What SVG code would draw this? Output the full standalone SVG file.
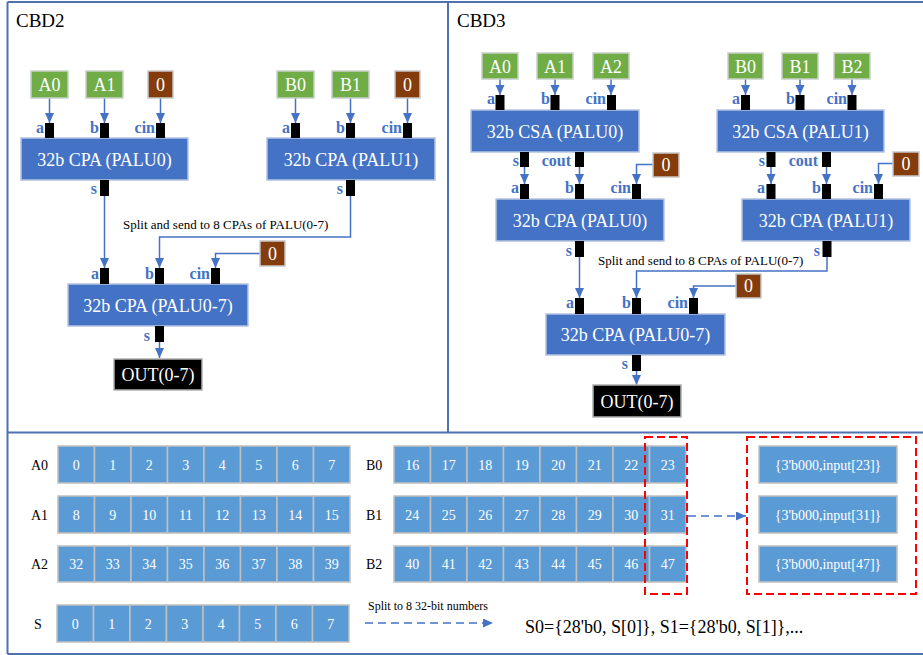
<svg xmlns="http://www.w3.org/2000/svg" width="923" height="655" viewBox="0 0 923 655">
<defs>
<marker id="ah" markerUnits="userSpaceOnUse" markerWidth="10" markerHeight="10" refX="10" refY="4.5" orient="auto"><path d="M0,0 L10,4.5 L0,9 z" fill="#4472c4"/></marker>
<style>
text{font-family:"Liberation Serif","Times New Roman",serif}
.frame{stroke:#5070b0;stroke-width:2;fill:none}
.blk{fill:#4472c4;stroke:#b4c4e0;stroke-width:1.5}
.blk text,.bt{fill:#fff;font-size:18px;text-anchor:middle}
.grn{fill:#70ad47;stroke:#c8d0c8;stroke-width:1.5}
.brn{fill:#843c0c;stroke:#c8c8c8;stroke-width:1.5}
.out{fill:#000;stroke:#b0b0b0;stroke-width:1.5}
.pin{fill:#000}
.pl{fill:#4472c4;font-size:16px;font-weight:bold;text-anchor:end}
.w{fill:none;stroke:#4472c4;stroke-width:1.5}
.wa{fill:none;stroke:#4472c4;stroke-width:1.5;marker-end:url(#ah)}
.dash{fill:none;stroke:#4472c4;stroke-width:1.5;stroke-dasharray:8,5;marker-end:url(#ah)}
.red{fill:none;stroke:#ff0000;stroke-width:2;stroke-dasharray:8,4}
.note{fill:#000;font-size:13px}
.cell{fill:#5b9bd5;stroke:#c0c0c0;stroke-width:1.5}
.ct{fill:#fff;font-size:14px;text-anchor:middle}
.rl{fill:#000;font-size:14px}
.ttl{fill:#000;font-size:19px}
</style>
</defs>
<g id="frame">
<path class="frame" d="M7.5,2 H923 M7.5,2 V654 M7.5,432.5 H923 M448,2 V432.5 M7.5,654 H923"/>
</g>
<text class="ttl" x="16" y="27">CBD2</text>
<text class="ttl" x="457" y="27">CBD3</text>

<g id="connectors">
<!-- CBD2 -->
<path class="wa" d="M49.5,98 V123"/>
<path class="wa" d="M104.5,98 V123"/>
<path class="wa" d="M160.5,98 V123"/>
<path class="wa" d="M295.5,98 V123"/>
<path class="wa" d="M350.5,98 V123"/>
<path class="wa" d="M407.5,98 V123"/>
<path class="wa" d="M104.5,196 V268"/>
<path class="wa" d="M350.5,196 V237 H159.5 V268"/>
<path class="wa" d="M260,253.5 H215.5 V268"/>
<path class="wa" d="M159.5,342 V358"/>
<!-- CBD3 -->
<path class="wa" d="M500,79 V95"/>
<path class="wa" d="M555,79 V95"/>
<path class="wa" d="M611,79 V95"/>
<path class="wa" d="M745.5,79 V95"/>
<path class="wa" d="M800,79 V95"/>
<path class="wa" d="M852,79 V95"/>
<path class="wa" d="M524.5,167 V184"/>
<path class="wa" d="M579.5,167 V184"/>
<path class="wa" d="M653,164.5 H636.5 V184"/>
<path class="wa" d="M771,167 V184"/>
<path class="wa" d="M826.5,167 V184"/>
<path class="wa" d="M893,163.5 H878.5 V184"/>
<path class="wa" d="M579.5,257 V298"/>
<path class="wa" d="M827,257 V271 H636.5 V298"/>
<path class="wa" d="M736,286 H693.5 V298"/>
<path class="wa" d="M636.5,371 V385"/>
<!-- bottom -->
<path class="dash" d="M688,516 H746"/>
<path class="dash" d="M365,623 H493"/>
</g>

<!-- CBD2 nodes -->
<g id="cbd2_A0"><rect class="grn" x="31" y="71" width="37" height="27"/><text class="bt" x="49.5" y="91">A0</text></g>
<g id="cbd2_A1"><rect class="grn" x="86" y="71" width="37" height="27"/><text class="bt" x="104.5" y="91">A1</text></g>
<g id="cbd2_z0"><rect class="brn" x="148" y="71" width="25" height="27"/><text class="bt" x="160.5" y="91">0</text></g>
<g id="cbd2_B0"><rect class="grn" x="277" y="71" width="37" height="27"/><text class="bt" x="295.5" y="91">B0</text></g>
<g id="cbd2_B1"><rect class="grn" x="332" y="71" width="37" height="27"/><text class="bt" x="350.5" y="91">B1</text></g>
<g id="cbd2_z1"><rect class="brn" x="395" y="71" width="25" height="27"/><text class="bt" x="407.5" y="91">0</text></g>

<g id="cbd2_palu0">
<rect class="blk" x="21" y="138" width="167" height="42"/><text class="bt" x="104.5" y="166">32b CPA (PALU0)</text>
<rect class="pin" x="45" y="123" width="9" height="15"/><rect class="pin" x="100" y="123" width="9" height="15"/><rect class="pin" x="156" y="123" width="9" height="15"/>
<rect class="pin" x="100" y="180" width="9" height="16"/>
<text class="pl" x="44" y="133">a</text><text class="pl" x="99" y="133">b</text><text class="pl" x="155" y="133">cin</text><text class="pl" x="97" y="194">s</text>
</g>
<g id="cbd2_palu1">
<rect class="blk" x="267" y="138" width="168" height="42"/><text class="bt" x="351" y="166">32b CPA (PALU1)</text>
<rect class="pin" x="291" y="123" width="9" height="15"/><rect class="pin" x="346" y="123" width="9" height="15"/><rect class="pin" x="403" y="123" width="9" height="15"/>
<rect class="pin" x="346" y="180" width="9" height="16"/>
<text class="pl" x="290" y="133">a</text><text class="pl" x="345" y="133">b</text><text class="pl" x="402" y="133">cin</text><text class="pl" x="343" y="194">s</text>
</g>
<text class="note" x="123" y="229">Split and send to 8 CPAs of PALU(0-7)</text>
<g id="cbd2_z2"><rect class="brn" x="260" y="241" width="25" height="25"/><text class="bt" x="272.5" y="260">0</text></g>
<g id="cbd2_palu07">
<rect class="blk" x="68" y="284" width="180" height="42"/><text class="bt" x="158" y="312">32b CPA (PALU0-7)</text>
<rect class="pin" x="100" y="268" width="9" height="16"/><rect class="pin" x="155" y="268" width="9" height="16"/><rect class="pin" x="211" y="268" width="9" height="16"/>
<rect class="pin" x="155" y="326" width="9" height="16"/>
<text class="pl" x="99" y="279">a</text><text class="pl" x="154" y="279">b</text><text class="pl" x="210" y="279">cin</text><text class="pl" x="150" y="341">s</text>
</g>
<g id="cbd2_out"><rect class="out" x="114" y="359" width="88" height="31"/><text class="bt" x="158" y="381">OUT(0-7)</text></g>

<!-- CBD3 nodes -->
<g id="cbd3_A0"><rect class="grn" x="482" y="53" width="36" height="26"/><text class="bt" x="500" y="73">A0</text></g>
<g id="cbd3_A1"><rect class="grn" x="537" y="53" width="36" height="26"/><text class="bt" x="555" y="73">A1</text></g>
<g id="cbd3_A2"><rect class="grn" x="593" y="53" width="36" height="26"/><text class="bt" x="611" y="73">A2</text></g>
<g id="cbd3_B0"><rect class="grn" x="728" y="53" width="35" height="26"/><text class="bt" x="745.5" y="73">B0</text></g>
<g id="cbd3_B1"><rect class="grn" x="782" y="53" width="36" height="26"/><text class="bt" x="800" y="73">B1</text></g>
<g id="cbd3_B2"><rect class="grn" x="834" y="53" width="36" height="26"/><text class="bt" x="852" y="73">B2</text></g>

<g id="cbd3_csa0">
<rect class="blk" x="471" y="110" width="168" height="42"/><text class="bt" x="555" y="138">32b CSA (PALU0)</text>
<rect class="pin" x="495.5" y="95" width="9" height="15"/><rect class="pin" x="550.5" y="95" width="9" height="15"/><rect class="pin" x="607" y="95" width="9" height="15"/>
<rect class="pin" x="520" y="152" width="9" height="15"/><rect class="pin" x="575" y="152" width="9" height="15"/>
<text class="pl" x="495" y="104">a</text><text class="pl" x="550" y="104">b</text><text class="pl" x="606" y="104">cin</text>
<text class="pl" x="519" y="166">s</text><text class="pl" x="571" y="166">cout</text>
</g>
<g id="cbd3_z0"><rect class="brn" x="653" y="153" width="26" height="24"/><text class="bt" x="666" y="171">0</text></g>
<g id="cbd3_cpa0">
<rect class="blk" x="496" y="199" width="168" height="42"/><text class="bt" x="580" y="227">32b CPA (PALU0)</text>
<rect class="pin" x="520" y="184" width="9" height="15"/><rect class="pin" x="575" y="184" width="9" height="15"/><rect class="pin" x="632" y="184" width="9" height="15"/>
<rect class="pin" x="575" y="241" width="9" height="16"/>
<text class="pl" x="519" y="193">a</text><text class="pl" x="574" y="193">b</text><text class="pl" x="631" y="193">cin</text><text class="pl" x="572" y="256">s</text>
</g>
<g id="cbd3_csa1">
<rect class="blk" x="717" y="110" width="167" height="42"/><text class="bt" x="800.5" y="138">32b CSA (PALU1)</text>
<rect class="pin" x="741" y="95" width="9" height="15"/><rect class="pin" x="795.5" y="95" width="9" height="15"/><rect class="pin" x="847.5" y="95" width="9" height="15"/>
<rect class="pin" x="766.5" y="152" width="9" height="15"/><rect class="pin" x="822" y="152" width="9" height="15"/>
<text class="pl" x="740" y="104">a</text><text class="pl" x="795" y="104">b</text><text class="pl" x="847" y="104">cin</text>
<text class="pl" x="765" y="166">s</text><text class="pl" x="818" y="166">cout</text>
</g>
<g id="cbd3_z1"><rect class="brn" x="893" y="152" width="26" height="24"/><text class="bt" x="906" y="170">0</text></g>
<g id="cbd3_cpa1">
<rect class="blk" x="742" y="199" width="168" height="42"/><text class="bt" x="826" y="227">32b CPA (PALU1)</text>
<rect class="pin" x="766.5" y="184" width="9" height="15"/><rect class="pin" x="822" y="184" width="9" height="15"/><rect class="pin" x="874" y="184" width="9" height="15"/>
<rect class="pin" x="822.5" y="241" width="9" height="16"/>
<text class="pl" x="765" y="193">a</text><text class="pl" x="821" y="193">b</text><text class="pl" x="873" y="193">cin</text><text class="pl" x="820" y="256">s</text>
</g>
<text class="note" x="598" y="265">Split and send to 8 CPAs of PALU(0-7)</text>
<g id="cbd3_z2"><rect class="brn" x="736" y="274" width="25" height="24"/><text class="bt" x="748.5" y="292">0</text></g>
<g id="cbd3_palu07">
<rect class="blk" x="546" y="314" width="179" height="41"/><text class="bt" x="635.5" y="341">32b CPA (PALU0-7)</text>
<rect class="pin" x="575" y="298" width="9" height="16"/><rect class="pin" x="632" y="298" width="9" height="16"/><rect class="pin" x="689" y="298" width="9" height="16"/>
<rect class="pin" x="632" y="355" width="9" height="16"/>
<text class="pl" x="574" y="308">a</text><text class="pl" x="631" y="308">b</text><text class="pl" x="688" y="308">cin</text><text class="pl" x="628" y="369">s</text>
</g>
<g id="cbd3_out"><rect class="out" x="593" y="385" width="88" height="32"/><text class="bt" x="637" y="408">OUT(0-7)</text></g>

<!-- bottom panel -->
<g id="row_A0">
<text class="rl" x="31" y="470">A0</text>
<rect class="cell" x="58" y="446" width="36.5" height="37"/><rect class="cell" x="94.5" y="446" width="36.5" height="37"/><rect class="cell" x="131" y="446" width="36.5" height="37"/><rect class="cell" x="167.5" y="446" width="36.5" height="37"/><rect class="cell" x="204" y="446" width="36.5" height="37"/><rect class="cell" x="240.5" y="446" width="36.5" height="37"/><rect class="cell" x="277" y="446" width="36.5" height="37"/><rect class="cell" x="313.5" y="446" width="36.5" height="37"/>
<text class="ct" x="76.25" y="469.5">0</text><text class="ct" x="112.75" y="469.5">1</text><text class="ct" x="149.25" y="469.5">2</text><text class="ct" x="185.75" y="469.5">3</text><text class="ct" x="222.25" y="469.5">4</text><text class="ct" x="258.75" y="469.5">5</text><text class="ct" x="295.25" y="469.5">6</text><text class="ct" x="331.75" y="469.5">7</text>
</g>
<g id="row_A1">
<text class="rl" x="31" y="520">A1</text>
<rect class="cell" x="58" y="496" width="36.5" height="37"/><rect class="cell" x="94.5" y="496" width="36.5" height="37"/><rect class="cell" x="131" y="496" width="36.5" height="37"/><rect class="cell" x="167.5" y="496" width="36.5" height="37"/><rect class="cell" x="204" y="496" width="36.5" height="37"/><rect class="cell" x="240.5" y="496" width="36.5" height="37"/><rect class="cell" x="277" y="496" width="36.5" height="37"/><rect class="cell" x="313.5" y="496" width="36.5" height="37"/>
<text class="ct" x="76.25" y="519.5">8</text><text class="ct" x="112.75" y="519.5">9</text><text class="ct" x="149.25" y="519.5">10</text><text class="ct" x="185.75" y="519.5">11</text><text class="ct" x="222.25" y="519.5">12</text><text class="ct" x="258.75" y="519.5">13</text><text class="ct" x="295.25" y="519.5">14</text><text class="ct" x="331.75" y="519.5">15</text>
</g>
<g id="row_A2">
<text class="rl" x="31" y="569">A2</text>
<rect class="cell" x="58" y="546" width="36.5" height="36"/><rect class="cell" x="94.5" y="546" width="36.5" height="36"/><rect class="cell" x="131" y="546" width="36.5" height="36"/><rect class="cell" x="167.5" y="546" width="36.5" height="36"/><rect class="cell" x="204" y="546" width="36.5" height="36"/><rect class="cell" x="240.5" y="546" width="36.5" height="36"/><rect class="cell" x="277" y="546" width="36.5" height="36"/><rect class="cell" x="313.5" y="546" width="36.5" height="36"/>
<text class="ct" x="76.25" y="569">32</text><text class="ct" x="112.75" y="569">33</text><text class="ct" x="149.25" y="569">34</text><text class="ct" x="185.75" y="569">35</text><text class="ct" x="222.25" y="569">36</text><text class="ct" x="258.75" y="569">37</text><text class="ct" x="295.25" y="569">38</text><text class="ct" x="331.75" y="569">39</text>
</g>
<g id="row_S">
<text class="rl" x="34" y="629">S</text>
<rect class="cell" x="57" y="605" width="36.5" height="37"/><rect class="cell" x="93.5" y="605" width="36.5" height="37"/><rect class="cell" x="130" y="605" width="36.5" height="37"/><rect class="cell" x="166.5" y="605" width="36.5" height="37"/><rect class="cell" x="203" y="605" width="36.5" height="37"/><rect class="cell" x="239.5" y="605" width="36.5" height="37"/><rect class="cell" x="276" y="605" width="36.5" height="37"/><rect class="cell" x="312.5" y="605" width="36.5" height="37"/>
<text class="ct" x="75.25" y="628.5">0</text><text class="ct" x="111.75" y="628.5">1</text><text class="ct" x="148.25" y="628.5">2</text><text class="ct" x="184.75" y="628.5">3</text><text class="ct" x="221.25" y="628.5">4</text><text class="ct" x="257.75" y="628.5">5</text><text class="ct" x="294.25" y="628.5">6</text><text class="ct" x="330.75" y="628.5">7</text>
</g>
<g id="row_B0">
<text class="rl" x="366" y="470">B0</text>
<rect class="cell" x="394" y="446" width="36.5" height="37"/><rect class="cell" x="430.5" y="446" width="36.5" height="37"/><rect class="cell" x="467" y="446" width="36.5" height="37"/><rect class="cell" x="503.5" y="446" width="36.5" height="37"/><rect class="cell" x="540" y="446" width="36.5" height="37"/><rect class="cell" x="576.5" y="446" width="36.5" height="37"/><rect class="cell" x="613" y="446" width="36.5" height="37"/><rect class="cell" x="649.5" y="446" width="36.5" height="37"/>
<text class="ct" x="412.25" y="469.5">16</text><text class="ct" x="448.75" y="469.5">17</text><text class="ct" x="485.25" y="469.5">18</text><text class="ct" x="521.75" y="469.5">19</text><text class="ct" x="558.25" y="469.5">20</text><text class="ct" x="594.75" y="469.5">21</text><text class="ct" x="631.25" y="469.5">22</text><text class="ct" x="667.75" y="469.5">23</text>
</g>
<g id="row_B1">
<text class="rl" x="366" y="520">B1</text>
<rect class="cell" x="394" y="496" width="36.5" height="37"/><rect class="cell" x="430.5" y="496" width="36.5" height="37"/><rect class="cell" x="467" y="496" width="36.5" height="37"/><rect class="cell" x="503.5" y="496" width="36.5" height="37"/><rect class="cell" x="540" y="496" width="36.5" height="37"/><rect class="cell" x="576.5" y="496" width="36.5" height="37"/><rect class="cell" x="613" y="496" width="36.5" height="37"/><rect class="cell" x="649.5" y="496" width="36.5" height="37"/>
<text class="ct" x="412.25" y="519.5">24</text><text class="ct" x="448.75" y="519.5">25</text><text class="ct" x="485.25" y="519.5">26</text><text class="ct" x="521.75" y="519.5">27</text><text class="ct" x="558.25" y="519.5">28</text><text class="ct" x="594.75" y="519.5">29</text><text class="ct" x="631.25" y="519.5">30</text><text class="ct" x="667.75" y="519.5">31</text>
</g>
<g id="row_B2">
<text class="rl" x="366" y="569">B2</text>
<rect class="cell" x="394" y="546" width="36.5" height="36"/><rect class="cell" x="430.5" y="546" width="36.5" height="36"/><rect class="cell" x="467" y="546" width="36.5" height="36"/><rect class="cell" x="503.5" y="546" width="36.5" height="36"/><rect class="cell" x="540" y="546" width="36.5" height="36"/><rect class="cell" x="576.5" y="546" width="36.5" height="36"/><rect class="cell" x="613" y="546" width="36.5" height="36"/><rect class="cell" x="649.5" y="546" width="36.5" height="36"/>
<text class="ct" x="412.25" y="569">40</text><text class="ct" x="448.75" y="569">41</text><text class="ct" x="485.25" y="569">42</text><text class="ct" x="521.75" y="569">43</text><text class="ct" x="558.25" y="569">44</text><text class="ct" x="594.75" y="569">45</text><text class="ct" x="631.25" y="569">46</text><text class="ct" x="667.75" y="569">47</text>
</g>
<g id="sel_col"><rect class="red" x="645" y="437" width="42" height="157"/></g>
<g id="sel_out">
<rect class="red" x="747" y="437" width="169" height="157"/>
<rect class="cell" x="759" y="446" width="138" height="37"/><text class="ct" x="828" y="469.5">{3'b000,input[23]}</text>
<rect class="cell" x="759" y="496" width="138" height="37"/><text class="ct" x="828" y="519.5">{3'b000,input[31]}</text>
<rect class="cell" x="759" y="546" width="138" height="36"/><text class="ct" x="828" y="569">{3'b000,input[47]}</text>
</g>
<text x="368" y="610" style="font-size:12px;fill:#000">Split to 8 32-bit numbers</text>
<text x="525" y="633" style="font-size:18px;fill:#000">S0={28'b0, S[0]}, S1={28'b0, S[1]},...</text>
</svg>
